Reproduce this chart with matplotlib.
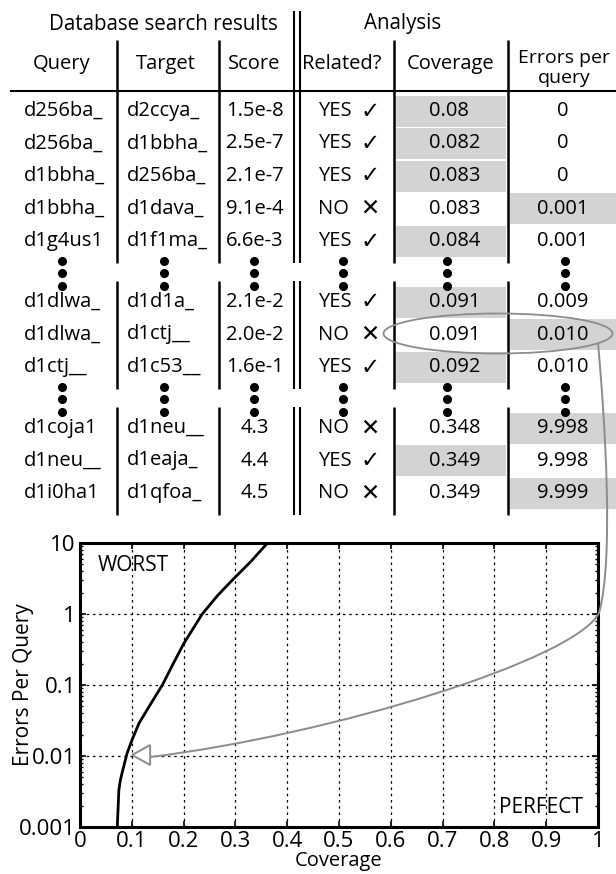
import numpy as np
import matplotlib.pyplot as plt
from matplotlib.patches import Rectangle, Ellipse, Polygon, PathPatch
from matplotlib.path import Path

plt.rcParams['font.family'] = ['Open Sans', 'DejaVu Sans']

# ---------------------------
# Table contents
# ---------------------------
queries = ['d256ba_', 'd256ba_', 'd1bbha_', 'd1bbha_', 'd1g4us1',
           'd1dlwa_', 'd1dlwa_', 'd1ctj__',
           'd1coja1', 'd1neu__', 'd1i0ha1']
targets = ['d2ccya_', 'd1bbha_', 'd256ba_', 'd1dava_', 'd1f1ma_',
           'd1d1a_', 'd1ctj__', 'd1c53__',
           'd1neu__', 'd1eaja_', 'd1qfoa_']
scores = ['1.5e-8', '2.5e-7', '2.1e-7', '9.1e-4', '6.6e-3',
          '2.1e-2', '2.0e-2', '1.6e-1',
          '4.3', '4.4', '4.5']
related = [True, True, True, False, True,
           True, False, True,
           False, True, False]
coverage_txt = ['0.08', '0.082', '0.083', '0.083', '0.084',
                '0.091', '0.091', '0.092',
                '0.348', '0.349', '0.349']
errors_txt = ['0', '0', '0', '0.001', '0.001',
              '0.009', '0.010', '0.010',
              '9.998', '9.998', '9.999']
block_sizes = [5, 3, 3]
highlight_row = 6   # row that gets circled and linked to the curve

# ---------------------------
# Coverage vs errors-per-query curve
# ---------------------------
curve_cov = [0.072, 0.073, 0.075, 0.078, 0.083, 0.091, 0.102, 0.114, 0.135, 0.159,
             0.18, 0.2, 0.236, 0.265, 0.294, 0.33, 0.362]
curve_err = [0.001, 0.0015, 0.0033, 0.0046, 0.0065, 0.011, 0.018, 0.029, 0.052, 0.1,
             0.2, 0.38, 1.0, 1.8, 3.0, 5.5, 10.0]

x_ticks = [0, 0.1, 0.2, 0.3, 0.4, 0.5, 0.6, 0.7, 0.8, 0.9, 1]
x_ticklabels = ['0', '0.1', '0.2', '0.3', '0.4', '0.5', '0.6', '0.7', '0.8', '0.9', '1']
y_ticks = [0.001, 0.01, 0.1, 1, 10]
y_ticklabels = ['0.001', '0.01', '0.1', '1', '10']

W, H = 616, 874
fig = plt.figure(figsize=(W / 100, H / 100), dpi=100)

# plot panel
ax = fig.add_axes([80 / W, (H - 827) / H, 518 / W, 284 / H])
ax.plot(curve_cov, curve_err, color='black', lw=2.0, solid_joinstyle='round')
ax.set_yscale('log')
ax.set_xlim(0, 1)
ax.set_ylim(0.001, 10)
ax.set_xticks(x_ticks)
ax.set_xticklabels(x_ticklabels)
ax.set_yticks(y_ticks)
ax.set_yticklabels(y_ticklabels)
ax.tick_params(which='both', direction='in', top=True, right=True, labelsize=16)
ax.tick_params(which='major', length=4, width=1.2, pad=3)
ax.tick_params(which='minor', length=2.5, width=1.0)
ax.grid(True, which='major', color='black', linestyle=(0, (2, 3)), lw=0.9)
for s in ax.spines.values():
    s.set_linewidth(2.2)
ax.set_xlabel('Coverage', fontsize=14.5, va='top')
ax.xaxis.set_label_coords(0.5, -0.084)
ax.set_ylabel('Errors Per Query', fontsize=15)
ax.yaxis.set_label_coords(-0.088, 0.5)
ax.text(0.035, 0.92, 'WORST', transform=ax.transAxes, fontsize=15, ha='left', va='center')
ax.text(0.971, 0.07, 'PERFECT', transform=ax.transAxes, fontsize=15, ha='right', va='center')

# overlay in pixel coordinates (origin top-left) for the table and the arrow
ov = fig.add_axes([0, 0, 1, 1])
ov.set_xlim(0, W)
ov.set_ylim(H, 0)
ov.axis('off')

fs = 14.5
pitch = 32.5
block_tops = [111, 302, 428]
row_y = []
for top, n in zip(block_tops, block_sizes):
    row_y += [top + i * pitch for i in range(n)]

shade = '#d3d3d3'
half = 15.5
for i, y in enumerate(row_y):
    if related[i]:
        ov.add_patch(Rectangle((396, y - half), 110, 2 * half, color=shade, lw=0, zorder=0))
    else:
        ov.add_patch(Rectangle((510, y - half), 106, 2 * half, color=shade, lw=0, zorder=0))

# headers
ov.text(163, 24, 'Database search results', fontsize=fs + 0.3, ha='center', va='center')
ov.text(403, 24, 'Analysis', fontsize=fs + 0.3, ha='center', va='center')
hy = 64
ov.text(62, hy, 'Query', fontsize=fs, ha='center', va='center')
ov.text(166, hy, 'Target', fontsize=fs, ha='center', va='center')
ov.text(254, hy, 'Score', fontsize=fs, ha='center', va='center')
ov.text(342, hy, 'Related?', fontsize=fs, ha='center', va='center')
ov.text(451, hy, 'Coverage', fontsize=fs, ha='center', va='center')
ov.text(564, 58, 'Errors per', fontsize=fs - 0.5, ha='center', va='center')
ov.text(564, 78, 'query', fontsize=fs - 0.5, ha='center', va='center')
ov.plot([11, W], [91, 91], color='black', lw=1.5)

# rows
for i, y in enumerate(row_y):
    ov.text(24, y, queries[i], fontsize=fs, ha='left', va='center')
    ov.text(127, y, targets[i], fontsize=fs, ha='left', va='center')
    ov.text(255, y, scores[i], fontsize=fs, ha='center', va='center')
    ov.text(318, y, 'YES' if related[i] else 'NO', fontsize=fs, ha='left', va='center')
    ov.text(370, y, '\u2713' if related[i] else '\u2715', fontsize=16.5, ha='center', va='center',
            family=['DejaVu Sans'])
    ov.text(429, y, coverage_txt[i], fontsize=fs, ha='left', va='center')
    ov.text(563, y, errors_txt[i], fontsize=fs, ha='center', va='center')

# vertical dots between blocks
dot_x = [62, 164, 254, 343, 447, 565]
starts = np.cumsum([0] + block_sizes)
for b in range(len(block_sizes) - 1):
    last = row_y[starts[b + 1] - 1]
    first = row_y[starts[b + 1]]
    mid = (last + first) / 2 + 1.5
    for x in dot_x:
        ov.plot([x] * 3, [mid - 12.5, mid, mid + 12.5], 'o', color='black', ms=5.5)

# column separators, broken where the dots are
segs = []
for b, n in enumerate(block_sizes):
    first = row_y[starts[b]]
    last = row_y[starts[b] + n - 1]
    segs.append([first - 21, last + 22])
for x in [117, 219, 394, 508]:
    for k, (y0, y1) in enumerate(segs):
        ov.plot([x, x], [40 if k == 0 else y0, y1], color='black', lw=1.8, solid_capstyle='butt')
for x in [294, 300]:
    for k, (y0, y1) in enumerate(segs):
        ov.plot([x, x], [11 if k == 0 else y0, y1], color='black', lw=1.5, solid_capstyle='butt')

# circled row and arrow to the matching point on the curve
gray = '#8c8c8c'
cy = row_y[highlight_row] - 1
ov.add_patch(Ellipse((498, cy), 229, 40, fill=False, edgecolor=gray, lw=1.3, zorder=5))
theta = np.arccos((598 - 498) / 114.5)
p0 = (598, cy + 20 * np.sin(theta))

tip_disp = ax.transData.transform((float(coverage_txt[highlight_row]), float(errors_txt[highlight_row])))
tip = ov.transData.inverted().transform(tip_disp)
tip = (tip[0] + 5, tip[1] - 1)
base_x = tip[0] + 18
p_mid = (599, 613)
verts = [p0, (605, 420), (614, 560), p_mid,
         (575, 660), (330, 735), (base_x, tip[1] + 2)]
codes = [Path.MOVETO, Path.CURVE4, Path.CURVE4, Path.CURVE4,
         Path.CURVE4, Path.CURVE4, Path.CURVE4]
ov.add_patch(PathPatch(Path(verts, codes), fill=False, edgecolor=gray, lw=1.4, zorder=6))
ov.add_patch(Polygon([tip, (base_x, tip[1] - 10), (base_x, tip[1] + 10)], closed=True,
                     facecolor='white', edgecolor=gray, lw=1.4, zorder=7))

fig.savefig('out.png', dpi=100)
